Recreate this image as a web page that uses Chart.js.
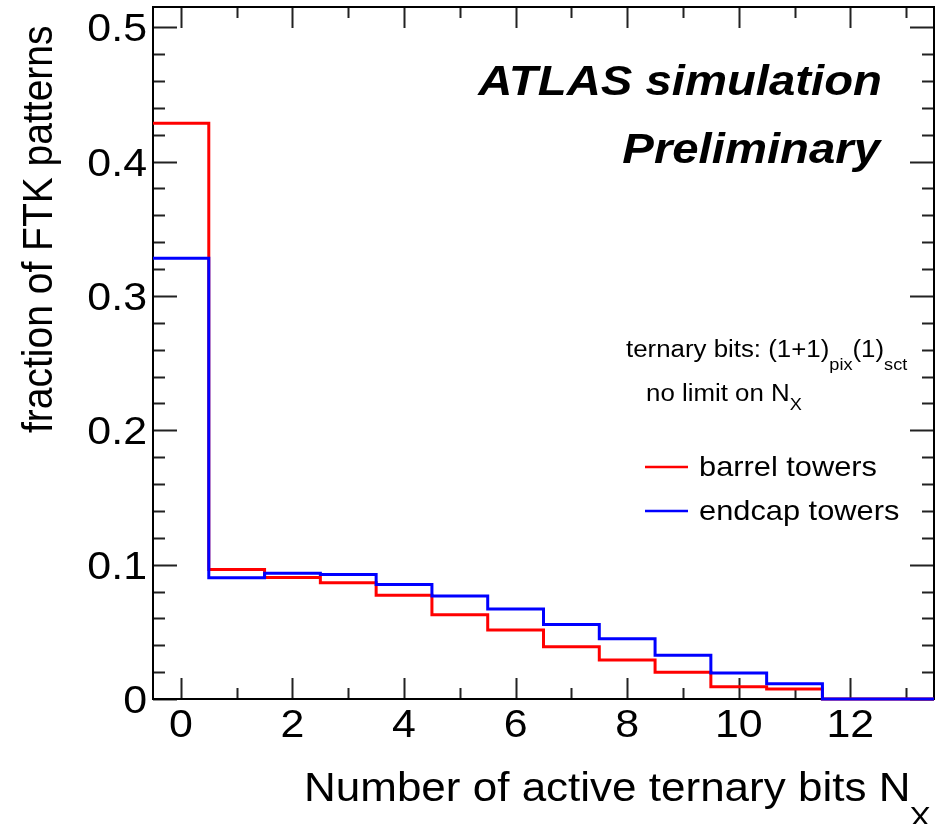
<!DOCTYPE html>
<html>
<head>
<meta charset="utf-8">
<script src="https://cdn.jsdelivr.net/npm/chart.js@4/dist/chart.umd.min.js"></script>
<style>
  html, body { margin: 0; padding: 0; background: #fff; }
  #chartBox { width: 943px; height: 824px; }
</style>
</head>
<body>
<div id="chartBox"><canvas id="bitsChart" width="943" height="824"></canvas></div>
<script>
// bin centres (number of active ternary bits)
const bins = [0, 1, 2, 3, 4, 5, 6, 7, 8, 9, 10, 11, 12, 13];
// fraction of patterns per bin
const barrelFrac = [0.4285, 0.0964, 0.0905, 0.0865, 0.0773, 0.0627, 0.0513, 0.0389, 0.029, 0.0199, 0.0091, 0.0074, 0, 0];
const endcapFrac = [0.328, 0.0902, 0.0935, 0.0927, 0.0853, 0.0766, 0.0669, 0.0555, 0.0448, 0.0325, 0.0193, 0.0114, 0, 0];

const xTickValues = [0, 2, 4, 6, 8, 10, 12];
const xTickLabels = ['0', '2', '4', '6', '8', '10', '12'];
const yTickValues = [0, 0.1, 0.2, 0.3, 0.4, 0.5];
const yTickLabels = ['0', '0.1', '0.2', '0.3', '0.4', '0.5'];

const seriesNames = ['barrel towers', 'endcap towers'];
const seriesColors = ['#ff0000', '#0000ff'];

const FONT = '"Liberation Sans", Arial, Helvetica, sans-serif';
const SX = 1.1; // text is drawn a little wide, like the ROOT output

// histogram outline: one point per lower bin edge, plus the last upper edge
function stepPoints(vals) {
    const pts = vals.map((v, i) => ({ x: bins[i] - 0.5, y: v }));
    pts.push({ x: bins[bins.length - 1] + 0.5, y: vals[vals.length - 1] });
    return pts;
}

function txt(ctx, s, x, y, font, align, base, rot) {
    ctx.save();
    ctx.translate(x, y);
    ctx.scale(SX, 1);
    if (rot) ctx.rotate(rot);
    ctx.font = font;
    ctx.textAlign = align || 'left';
    ctx.textBaseline = base || 'alphabetic';
    ctx.fillStyle = '#000';
    ctx.fillText(s, 0, 0);
    ctx.restore();
}

// left-aligned runs of text with subscripts
function runs(ctx, parts, x, y) {
    let cx = x;
    parts.forEach(p => {
        ctx.font = p.font;
        txt(ctx, p.t, cx, y + (p.dy || 0), p.font);
        cx += ctx.measureText(p.t).width * SX + (p.gap || 0);
    });
}

// frame with inward ticks on all four sides (ROOT style)
const framePlugin = {
    id: 'frame',
    beforeDatasetsDraw(chart) {
        const { ctx, chartArea: a, scales: { x, y } } = chart;
        ctx.save();
        ctx.strokeStyle = '#222';
        ctx.lineWidth = 2;
        ctx.beginPath();
        for (let v = 0; v <= 13; v++) {
            const px = Math.round(x.getPixelForValue(v)) + 0.5;
            const len = xTickValues.includes(v) ? 21 : 11;
            ctx.moveTo(px, a.bottom); ctx.lineTo(px, a.bottom - len);
            ctx.moveTo(px, a.top); ctx.lineTo(px, a.top + len);
        }
        for (let k = 0; k <= 25; k++) {
            const v = k * 0.02;
            const py = Math.round(y.getPixelForValue(v)) + 0.5;
            const len = k % 5 === 0 ? 24 : 12;
            ctx.moveTo(a.left, py); ctx.lineTo(a.left + len, py);
            ctx.moveTo(a.right, py); ctx.lineTo(a.right - len, py);
        }
        ctx.stroke();
        ctx.strokeStyle = '#000';
        ctx.strokeRect(a.left, a.top, a.right - a.left, a.bottom - a.top);
        ctx.restore();
    },
    afterDraw(chart) {
        const { ctx, scales: { x, y } } = chart;
        ctx.save();
        const tickFont = '39px ' + FONT;
        yTickValues.forEach((v, i) => {
            txt(ctx, yTickLabels[i], 147, y.getPixelForValue(v) + 14, tickFont, 'right');
        });
        xTickValues.forEach((v, i) => {
            txt(ctx, xTickLabels[i], x.getPixelForValue(v), 737, tickFont, 'center');
        });

        // axis titles
        txt(ctx, 'fraction of FTK patterns', 52, 433, '39px ' + FONT, 'left', 'alphabetic', -Math.PI / 2);
        runs(ctx, [
            { t: 'Number of active ternary bits N', font: '40px ' + FONT, gap: -1 },
            { t: 'X', font: '29px ' + FONT, dy: 26 }
        ], 304, 801);

        // labels
        txt(ctx, 'ATLAS simulation', 882, 95, 'italic bold 43px ' + FONT, 'right');
        txt(ctx, 'Preliminary', 880, 163, 'italic bold 43px ' + FONT, 'right');

        runs(ctx, [
            { t: 'ternary bits: (1+1)', font: '23.5px ' + FONT },
            { t: 'pix', font: '16.5px ' + FONT, dy: 13 },
            { t: '(1)', font: '23.5px ' + FONT },
            { t: 'sct', font: '16.5px ' + FONT, dy: 13 }
        ], 626, 357);
        runs(ctx, [
            { t: 'no limit on N', font: '23.5px ' + FONT },
            { t: 'X', font: '16.5px ' + FONT, dy: 9 }
        ], 646, 401);

        // legend
        const legY = [467, 511];
        seriesNames.forEach((name, i) => {
            ctx.strokeStyle = seriesColors[i];
            ctx.lineWidth = 2.5;
            ctx.beginPath();
            ctx.moveTo(645, legY[i]);
            ctx.lineTo(688, legY[i]);
            ctx.stroke();
            txt(ctx, name, 699, legY[i] + 9, '28px ' + FONT, 'left');
        });
        ctx.restore();
    }
};

new Chart(document.getElementById('bitsChart'), {
    type: 'line',
    data: {
        datasets: [
            {
                label: seriesNames[0],
                data: stepPoints(barrelFrac),
                borderColor: seriesColors[0],
                borderWidth: 3,
                stepped: 'before',
                pointRadius: 0,
                fill: false,
                clip: 4,
                order: 2
            },
            {
                label: seriesNames[1],
                data: stepPoints(endcapFrac),
                borderColor: seriesColors[1],
                borderWidth: 3,
                stepped: 'before',
                pointRadius: 0,
                fill: false,
                clip: 4,
                order: 1
            }
        ]
    },
    options: {
        responsive: false,
        devicePixelRatio: 1,
        animation: false,
        events: [],
        layout: { padding: { left: 153, right: 9, top: 7, bottom: 125 } },
        scales: {
            x: { type: 'linear', min: -0.5, max: 13.5, display: false },
            y: { type: 'linear', min: 0, max: 0.515, display: false }
        },
        plugins: {
            legend: { display: false },
            tooltip: { enabled: false }
        }
    },
    plugins: [framePlugin]
});
</script>
</body>
</html>
